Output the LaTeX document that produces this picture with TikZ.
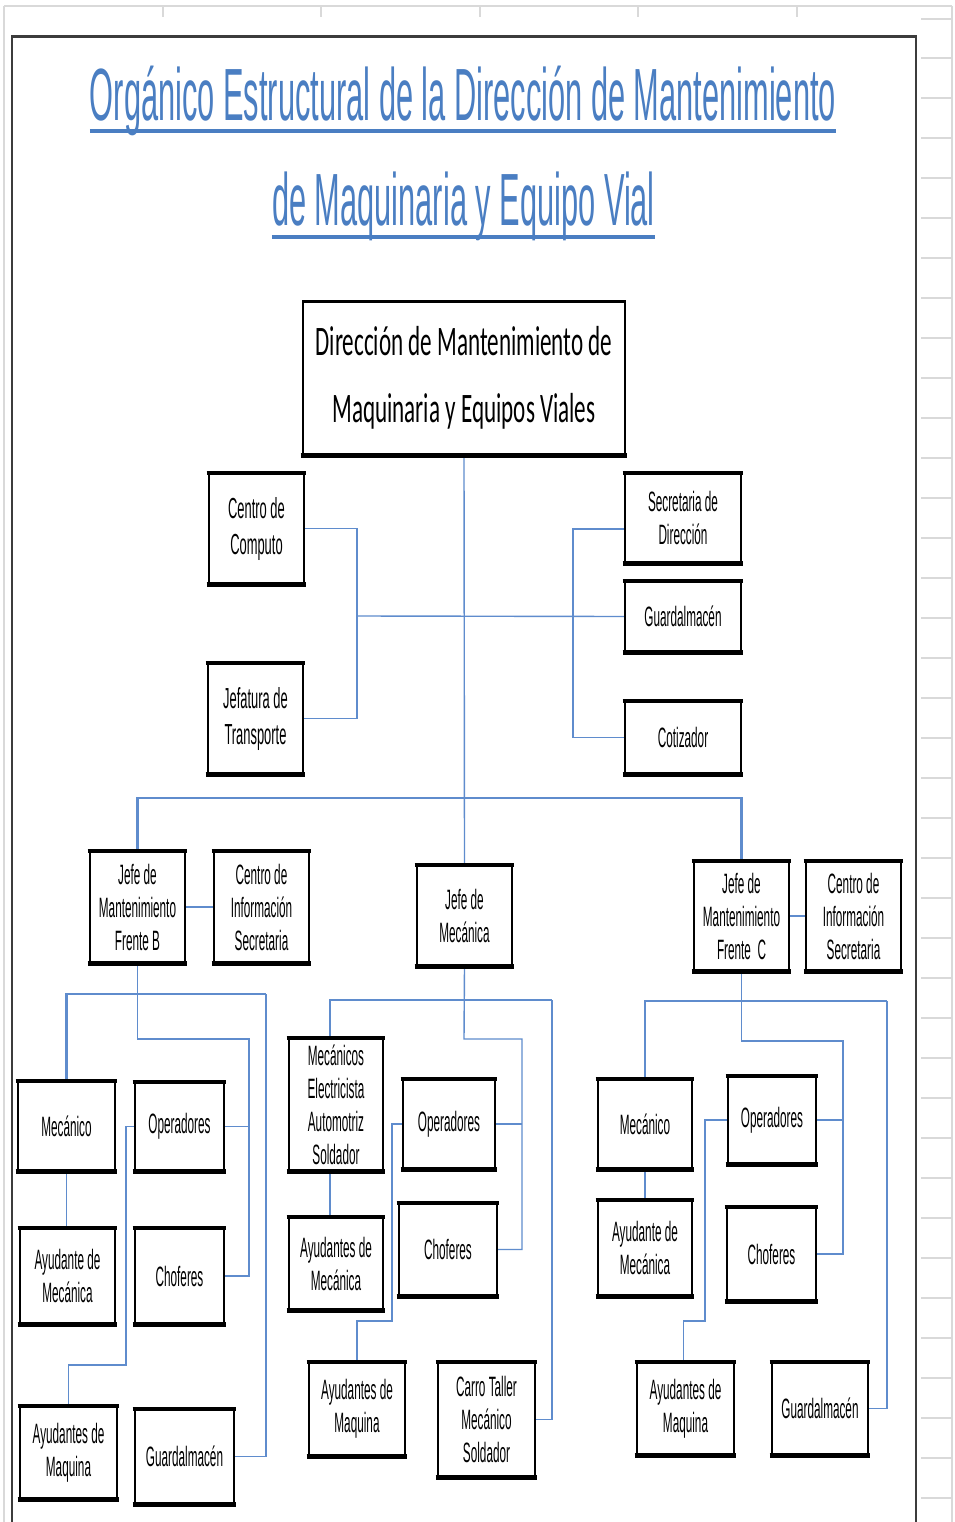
\documentclass[tikz,border=0pt]{standalone}
\usepackage{fontspec}
\usetikzlibrary{backgrounds}
\setmainfont{Liberation Sans}
\newfontfamily\boxfam{Liberation Sans}[FakeStretch=0.42]
\newfontfamily\boxfamb{Liberation Sans}[FakeStretch=0.445]
\newfontfamily\titlefam{Liberation Sans}[FakeStretch=0.416]
\newfontfamily\mainfam{Carlito}[FakeStretch=0.55]
\definecolor{ttl}{RGB}{74,126,194}
\definecolor{ln}{RGB}{95,140,205}
\definecolor{gridc}{RGB}{217,217,217}
\definecolor{framec}{RGB}{60,60,60}
\tikzset{
 bx/.style={draw=black, line width=2.4pt, fill=white, inner sep=0pt, align=center,
   font=\boxfam\fontsize{28}{33}\selectfont},
 bigtext/.style={font=\boxfamb\fontsize{29}{36}\selectfont},
 conn/.style={draw=ln, line width=1.4pt},
 busline/.style={draw=ln, line width=2.4pt},
 gridline/.style={draw=gridc, line width=1.5pt},
 ttlstyle/.style={text=ttl, inner sep=0pt, anchor=base,
   font=\titlefam\fontsize{74}{74}\selectfont},
}
\newcommand\bxn[7][]{\node[bx, #1, minimum width={#5-#3}, minimum height={#6-#4}] (#2) at ({(#3+#5)/2},{(#4+#6)/2}) {#7};}
\begin{document}
\begin{tikzpicture}[x=1pt,y=-1pt]
\useasboundingbox (0,0) rectangle (954,1522);

% titles
\node[ttlstyle] (t1) at (463,121) {Orgánico Estructural de la Dirección de Mantenimiento};
\node[ttlstyle] (t2) at (463.5,226) {de Maquinaria y Equipo Vial};
\draw[ttl, line width=4pt] ([yshift=-10pt]t1.base west) -- ([yshift=-10pt]t1.base east);
\draw[ttl, line width=4pt] ([yshift=-11pt]t2.base west) -- ([yshift=-11pt]t2.base east);

% main box
\node[bx, font=\mainfam\fontsize{42}{67}\selectfont, minimum width=322, minimum height=153] (main) at (464,378) {Dirección de Mantenimiento de\\Maquinaria y Equipos Viales};

% upper staff
\bxn[bigtext]{cc}{209}{474}{304}{583}{Centro de\\Computo}
\bxn[bigtext]{jt}{208}{664}{303}{773}{Jefatura de\\Transporte}
\bxn{sd}{625}{474}{741}{562}{Secretaria de\\Dirección}
\bxn{ga}{625}{582}{741}{651}{Guardalmacén}
\bxn{co}{625}{702}{741}{773}{Cotizador}

% second level
\bxn{jb}{90}{852}{185}{962}{Jefe de\\Mantenimiento\\Frente B}
\bxn{cib}{214}{852}{309}{962}{Centro de\\Información\\Secretaria}
\bxn{jm}{417}{866}{512}{965}{Jefe de\\Mecánica}
\bxn{jc}{694}{862}{789}{970}{Jefe de\\Mantenimiento\\Frente~~C}
\bxn{cic}{806}{862}{901}{970}{Centro de\\Información\\Secretaria}

% left section
\bxn{lmec}{18}{1082}{115}{1170}{Mecánico}
\bxn{lope}{135}{1083}{224}{1170}{Operadores}
\bxn{laym}{20}{1229}{115}{1323}{Ayudante de\\Mecánica}
\bxn{lcho}{135}{1229}{224}{1323}{Choferes}
\bxn{laymq}{20}{1407}{117}{1498}{Ayudantes de\\Maquina}
\bxn{lgua}{135}{1410}{234}{1503}{Guardalmacén}

% middle section
\bxn{mmec}{289}{1039}{383}{1170}{Mecánicos\\Electricista\\Automotriz\\Soldador}
\bxn{mope}{403}{1080}{495}{1168}{Operadores}
\bxn{mayu}{289}{1218}{383}{1309}{Ayudantes de\\Mecánica}
\bxn{mcho}{399}{1204}{497}{1295}{Choferes}
\bxn{maymq}{309}{1363}{405}{1455}{Ayudantes de\\Maquina}
\bxn{mcar}{438}{1363}{535}{1476}{Carro Taller\\Mecánico\\Soldador}

% right section
\bxn{rmec}{598}{1080}{692}{1168}{Mecánico}
\bxn{rope}{728}{1077}{816}{1163}{Operadores}
\bxn{rayu}{598}{1201}{692}{1295}{Ayudante de\\Mecánica}
\bxn{rcho}{727}{1208}{816}{1300}{Choferes}
\bxn{raymq}{637}{1363}{734}{1454}{Ayudantes de\\Maquina}
\bxn{rgua}{772}{1363}{868}{1454}{Guardalmacén}

% thick top / bottom borders
\foreach \n in {cc,jt,sd,ga,co,jb,cib,jm,jc,cic,lmec,lope,laym,lcho,laymq,lgua,mmec,mope,mayu,mcho,maymq,mcar,rmec,rope,rayu,rcho,raymq,rgua}{
  \draw[line width=4.5pt] ([xshift=-1.2pt]\n.north west) -- ([xshift=1.2pt]\n.north east);
  \draw[line width=5pt] ([xshift=-1.2pt]\n.south west) -- ([xshift=1.2pt]\n.south east);
}
\draw[line width=4.5pt] ([xshift=-1.2pt]main.south west) -- ([xshift=1.2pt]main.south east);

\begin{scope}[on background layer]
\fill[white] (0,0) rectangle (954,1522);
% spreadsheet grid
\draw[gridline] (4,6) -- (952,6);
\draw[gridline] (4,6) -- (4,1522);
\draw[gridline] (952,6) -- (952,1522);
\foreach \x in {163,321,480,638,797} \draw[gridline] (\x,6) -- (\x,17);
\draw[gridline] (921,19) -- (952,19);
\foreach \y in {58,98,...,1498} \draw[gridline] (921,\y) -- (952,\y);
% frame
\draw[framec, line width=1.5pt] (12,37) -- (12,1522);
\draw[framec, line width=1.5pt] (916,37) -- (916,1522);
\draw[framec, line width=3pt] (11,37) -- (917,37);

% connectors: top
\draw[conn] (main.south) -- (jm.north);
\coordinate (lb) at (357,616);
\coordinate (rb) at (573,616);
\draw[conn] (cc.east) -| (lb) |- (jt.east);
\draw[conn] (lb) -- (ga.west);
\draw[conn] ([yshift=-11pt]sd.west) -| (rb) |- (co.west);
\coordinate (bus) at (464,798);
\draw[busline] (jb.north) |- (bus) -| (jc.north);
\draw[conn] (jb.east) -- (cib.west);
\draw[conn] (jc.east) -- (cic.west);

% left section
\coordinate (l2) at (137.5,1039);
\coordinate (l3) at (249,1039);
\coordinate (l4) at (266,994);
\coordinate (l5) at (126,1365);
\draw[conn] (jb.south) -- (l2) -- (l3) |- (lcho.east);
\draw[conn] (lope.east) -- (lope.east -| l3);
\draw[busline] (lmec.north) |- (l4);
\draw[conn] (l4) |- (lgua.east);
\draw[conn] (lmec.south) -- (lmec.south |- laym.north);
\draw[conn] (lope.west) -| (l5) -| (laymq.north);

% middle section
\coordinate (m1) at (464,1039);
\coordinate (m2) at (522,1039);
\coordinate (m3) at (552,1000);
\coordinate (m5) at (392,1321);
\draw[conn] (jm.south) -- (m1) -- (m2) |- (mcho.east);
\draw[conn] (mope.east) -- (mope.east -| m2);
\draw[busline] ([xshift=-6pt]mmec.north) |- (m3);
\draw[conn] (m3) |- (mcar.east);
\draw[conn] ([xshift=-6pt]mmec.south) -- ([xshift=-6pt]mayu.north);
\draw[conn] (mope.west) -| (m5) -| (maymq.north);

% right section
\coordinate (r1) at (741.5,1041);
\coordinate (r2) at (843,1041);
\coordinate (r3) at (887,1001);
\coordinate (r5) at (705,1321);
\draw[conn] (jc.south) -- (r1) -- (r2) |- (rcho.east);
\draw[conn] (rope.east) -- (rope.east -| r2);
\draw[busline] (rmec.north) |- (r3);
\draw[conn] (r3) |- (rgua.east);
\draw[conn] (rmec.south) -- (rayu.north);
\draw[conn] (rope.west) -| (r5) -| ([xshift=-2pt]raymq.north);
\end{scope}
\end{tikzpicture}
\end{document}
